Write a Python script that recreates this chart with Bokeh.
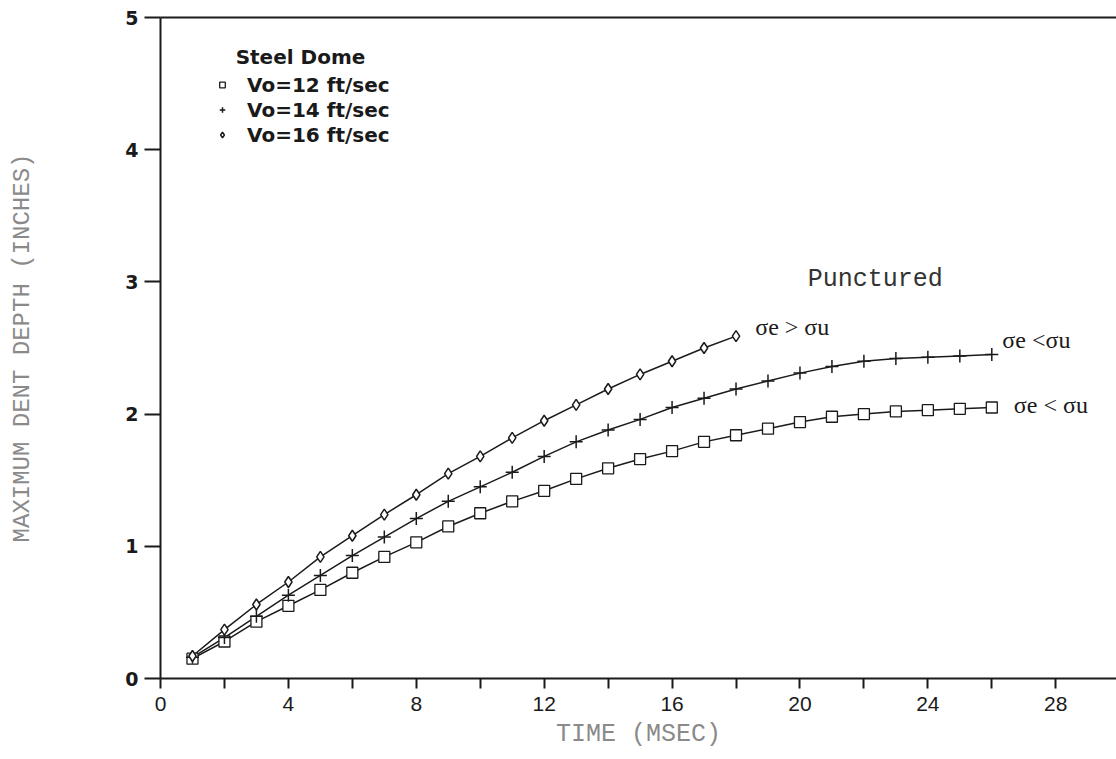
from bokeh.plotting import figure
from bokeh.models import Label, Legend, LegendItem, LinearAxis, FixedTicker, Range1d
from bokeh.embed import file_html
from bokeh.resources import INLINE

# ---- data ----
t_12 = list(range(1, 27))
d_12 = [0.15, 0.28, 0.43, 0.55, 0.67, 0.80, 0.92, 1.03, 1.15, 1.25, 1.34, 1.42, 1.51,
        1.59, 1.66, 1.72, 1.79, 1.84, 1.89, 1.94, 1.98, 2.00, 2.02, 2.03, 2.04, 2.05]
t_14 = list(range(1, 27))
d_14 = [0.16, 0.31, 0.47, 0.63, 0.78, 0.93, 1.07, 1.21, 1.34, 1.45, 1.56, 1.68, 1.79,
        1.88, 1.96, 2.05, 2.12, 2.19, 2.25, 2.31, 2.36, 2.40, 2.42, 2.43, 2.44, 2.45]
t_16 = list(range(1, 19))
d_16 = [0.17, 0.37, 0.56, 0.73, 0.92, 1.08, 1.24, 1.39, 1.55, 1.68, 1.82, 1.95, 2.07,
        2.19, 2.30, 2.40, 2.50, 2.59]

x_ticks = [0, 4, 8, 12, 16, 20, 24, 28]
x_minor = [2, 6, 10, 14, 18, 22, 26, 30]
y_ticks = [0, 1, 2, 3, 4, 5]
labels = ["Vo=12 ft/sec", "Vo=14 ft/sec", "Vo=16 ft/sec"]

INK = "#1a1a1a"

p = figure(width=1116, height=759, x_range=Range1d(0, 29.9), y_range=Range1d(0, 5),
           output_backend="svg", toolbar_location=None,
           min_border_left=160, min_border_right=0, min_border_top=17, min_border_bottom=81)
p.grid.visible = False
p.outline_line_color = None
p.background_fill_color = "white"

# y axis
ya = p.yaxis[0]
ya.ticker = FixedTicker(ticks=y_ticks)
ya.major_tick_out = 16
ya.major_tick_in = 0
ya.minor_tick_out = 0
ya.minor_tick_in = 0
ya.major_label_standoff = 6
ya.axis_line_width = 2
ya.major_tick_line_width = 2
ya.axis_line_color = INK
ya.major_tick_line_color = INK
ya.major_label_text_font = "DejaVu Sans"
ya.major_label_text_font_style = "bold"
ya.major_label_text_font_size = "19px"
ya.major_label_text_color = INK
ya.axis_label = "MAXIMUM DENT DEPTH (INCHES)"
ya.axis_label_text_font = "Liberation Mono"
ya.axis_label_text_font_style = "normal"
ya.axis_label_text_font_size = "24px"
ya.axis_label_text_color = "#8a8a8a"
ya.axis_label_standoff = 86

# x axis
xa = p.xaxis[0]
xa.ticker = FixedTicker(ticks=x_ticks, minor_ticks=x_minor)
xa.major_tick_out = 10
xa.major_tick_in = 0
xa.minor_tick_out = 10
xa.minor_tick_in = 0
xa.axis_line_width = 2
xa.major_tick_line_width = 2
xa.minor_tick_line_width = 2
xa.axis_line_color = INK
xa.major_tick_line_color = INK
xa.minor_tick_line_color = INK
xa.major_label_standoff = 8
xa.major_label_text_font = "Liberation Sans Narrow, Liberation Sans"
xa.major_label_text_font_size = "21px"
xa.major_label_text_color = INK
xa.axis_label = "TIME (MSEC)"
xa.axis_label_text_font = "Liberation Mono"
xa.axis_label_text_font_style = "normal"
xa.axis_label_text_font_size = "25px"
xa.axis_label_text_color = "#8a8a8a"
xa.axis_label_standoff = 6

# top border line
top = LinearAxis(ticker=FixedTicker(ticks=[]), axis_line_width=2, axis_line_color=INK,
                 major_tick_out=0, major_tick_in=0, minor_tick_out=0, minor_tick_in=0)
p.add_layout(top, "above")

# series
p.line(t_12, d_12, line_color=INK, line_width=1.5)
p.line(t_14, d_14, line_color=INK, line_width=1.5)
p.line(t_16, d_16, line_color=INK, line_width=1.5)
r12 = p.scatter(t_12, d_12, marker="square", size=11, fill_color="white",
                line_color=INK, line_width=1.3)
r14 = p.scatter(t_14, d_14, marker="cross", size=13, line_color=INK, line_width=1.5)
r16 = p.scatter(t_16, d_16, marker="diamond", size=11, fill_color="white",
                line_color=INK, line_width=1.5)

legend = Legend(items=[LegendItem(label=labels[0], renderers=[r12]),
                       LegendItem(label=labels[1], renderers=[r14]),
                       LegendItem(label=labels[2], renderers=[r16])],
                location="top_left", margin=55, padding=5, spacing=0,
                glyph_width=14, glyph_height=25, label_height=25, label_standoff=18,
                border_line_color=None, background_fill_alpha=0,
                label_text_font="DejaVu Sans", label_text_font_style="bold",
                label_text_font_size="20px", label_text_color=INK)
p.add_layout(legend)

p.add_layout(Label(x=2.35, y=4.70, text="Steel Dome", text_font="DejaVu Sans",
                   text_font_style="bold", text_font_size="20px", text_color=INK,
                   text_baseline="middle"))
p.add_layout(Label(x=20.24, y=3.015, text="Punctured", text_font="Liberation Mono",
                   text_font_size="25px", text_color="#333333", text_baseline="middle"))
p.add_layout(Label(x=18.6, y=2.66, text="σe > σu", text_font="Liberation Serif",
                   text_font_size="24px", text_color=INK, text_baseline="middle"))
p.add_layout(Label(x=26.33, y=2.56, text="σe <σu", text_font="Liberation Serif",
                   text_font_size="24px", text_color=INK, text_baseline="middle"))
p.add_layout(Label(x=26.69, y=2.07, text="σe < σu", text_font="Liberation Serif",
                   text_font_size="24px", text_color=INK, text_baseline="middle"))

open("out.html", "w").write(file_html(p, INLINE))
